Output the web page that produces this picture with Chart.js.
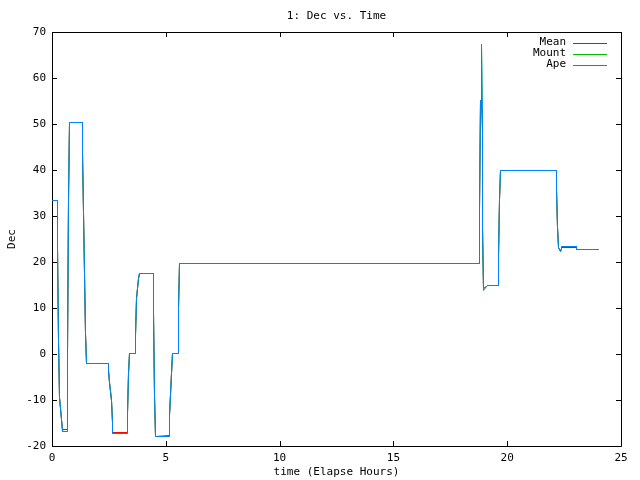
<!DOCTYPE html>
<html>
<head>
<meta charset="utf-8">
<title>1: Dec vs. Time</title>
<script src="https://cdn.jsdelivr.net/npm/chart.js@4.4.0/dist/chart.umd.min.js"></script>
<style>
  body { margin: 0; background: #fff; }
</style>
</head>
<body>
<canvas id="decChart" width="640" height="480"></canvas>
<script>
// elapsed hours and declination of each series
const hours = [
    0, 0.233, 0.233, 0.278, 0.322, 0.383, 0.427, 0.674, 0.674, 0.718,
    0.762, 1.335, 1.335, 1.379, 1.423, 1.467, 1.511, 2.480, 2.480, 2.524,
    2.586, 2.630, 2.656, 3.317, 3.317, 3.361, 3.405, 3.656, 3.656, 3.700,
    3.758, 3.802, 4.436, 4.436, 4.480, 4.507, 5.154, 5.154, 5.211, 5.256,
    5.537, 5.537, 5.564, 18.78, 18.78, 18.811, 18.868, 18.868, 18.885, 18.899,
    18.943, 19.07, 19.12, 19.617, 19.617, 19.66, 19.705, 22.128, 22.128, 22.172,
    22.216, 22.26, 22.304, 22.348, 22.38, 23.01, 23.04, 24.0
];
const apeDec = [
    33.5, 33.5, 23.3, 3.0, -9.4, -14.2, -16.7, -16.7, 0.2, 33.6,
    50.5, 50.5, 44.0, 30.9, 17.7, 4.5, -2.0, -2.0, -3.5, -6.0,
    -9.9, -14.7, -17.2, -17.2, -12.9, -4.2, 0.2, 0.2, 4.1, 12.1,
    16.5, 17.7, 17.7, 9.2, -8.9, -17.8, -17.8, -13.3, -4.2, 0.3,
    0.3, 9.9, 19.7, 19.7, 31.5, 55.2, 54.3, 67.3, 48.7, 27.7,
    14.4, 14.8, 15.0, 15.0, 21.2, 33.7, 40.1, 40.1, 35.8, 27.7,
    23.2, 22.8, 22.4, 23.1, 23.5, 23.5, 22.8, 22.8
];
const mountDec = [
    33.5, 33.5, 23.3, 3.0, -9.4, -14.2, -16.7, -16.7, 0.2, 33.6,
    50.5, 50.5, 44.0, 30.9, 17.7, 4.5, -2.0, -2.0, -3.5, -6.0,
    -9.9, -14.7, -17.2, -17.2, -12.9, -4.2, 0.2, 0.2, 4.1, 12.1,
    16.5, 17.7, 17.7, 9.2, -8.9, -17.8, -17.8, -13.3, -4.2, 0.3,
    0.3, 9.9, 19.7, 19.7, 31.5, 55.2, 54.3, 67.3, 48.7, 27.7,
    14.0, 14.8, 15.0, 15.0, 21.2, 33.7, 40.1, 40.1, 35.8, 27.7,
    23.2, 22.8, 22.4, 23.1, 23.5, 23.5, 22.8, 22.8
];
const meanDec = [
    33.5, 33.5, 23.3, 3.0, -9.4, -14.2, -16.4, -16.4, 0.2, 33.6,
    50.5, 50.5, 44.0, 30.9, 17.7, 4.5, -2.0, -2.0, -3.5, -6.0,
    -9.9, -14.7, -16.9, -16.9, -12.9, -4.2, 0.2, 0.2, 4.1, 12.1,
    16.5, 17.7, 17.7, 9.2, -8.9, -17.8, -17.5, -13.3, -4.2, 0.3,
    0.3, 9.9, 19.7, 19.7, 31.5, 55.2, 54.3, 54.3, 48.7, 27.7,
    14.4, 14.8, 15.0, 15.0, 21.2, 33.7, 40.1, 40.1, 35.8, 27.7,
    23.2, 22.8, 22.4, 23.0, 23.2, 23.2, 22.8, 22.8
];
const xTicks = [0, 5, 10, 15, 20, 25];
const yTicks = [-20, -10, 0, 10, 20, 30, 40, 50, 60, 70];

const FONT = '11px "DejaVu Sans Mono", monospace';

function toPoints(values) {
    return hours.map((h, i) => ({ x: h, y: values[i] }));
}

// snap the computed points to pixel centres so 1px lines stay crisp like gnuplot
const snapPlugin = {
    id: 'snap',
    afterDatasetsUpdate(chart) {
        chart.data.datasets.forEach((ds, i) => {
            chart.getDatasetMeta(i).data.forEach(p => {
                p.x = Math.round(p.x) + 0.5;
                p.y = Math.round(p.y) + 0.5;
            });
        });
    }
};

// gnuplot style frame: border plus inward ticks on all four sides
const framePlugin = {
    id: 'frame',
    beforeDatasetsDraw(chart) {
        const { ctx, chartArea: a, scales } = chart;
        const tick = 5;
        ctx.save();
        ctx.strokeStyle = '#000';
        ctx.lineWidth = 1;
        ctx.beginPath();
        ctx.rect(a.left + 0.5, a.top + 0.5, a.right - a.left, a.bottom - a.top);
        scales.x.ticks.forEach(t => {
            const px = Math.round(scales.x.getPixelForValue(t.value)) + 0.5;
            ctx.moveTo(px, a.bottom); ctx.lineTo(px, a.bottom - tick);
            ctx.moveTo(px, a.top); ctx.lineTo(px, a.top + tick);
        });
        scales.y.ticks.forEach(t => {
            const py = Math.round(scales.y.getPixelForValue(t.value)) + 0.5;
            ctx.moveTo(a.left, py); ctx.lineTo(a.left + tick, py);
            ctx.moveTo(a.right, py); ctx.lineTo(a.right - tick, py);
        });
        ctx.stroke();
        ctx.restore();
    },
    afterDraw(chart) {
        const { ctx, chartArea: a } = chart;
        const midX = (a.left + a.right) / 2;
        ctx.save();
        ctx.fillStyle = '#000';
        ctx.font = FONT;
        ctx.textBaseline = 'middle';
        ctx.textAlign = 'center';
        ctx.fillText('1: Dec vs. Time', midX, 16);
        ctx.fillText('time (Elapse Hours)', midX, 472);
        ctx.save();
        ctx.translate(12, (a.top + a.bottom) / 2);
        ctx.rotate(-Math.PI / 2);
        ctx.fillText('Dec', 0, 0);
        ctx.restore();

        // legend, top right, text right aligned with a line sample
        ctx.textAlign = 'right';
        chart.data.datasets.forEach((ds, i) => {
            const y = 42.5 + i * 11;
            ctx.fillStyle = '#000';
            ctx.fillText(ds.label, 566, y);
            ctx.strokeStyle = ds.borderColor;
            ctx.lineWidth = 1;
            ctx.beginPath();
            ctx.moveTo(573, Math.round(y) + 0.5);
            ctx.lineTo(607, Math.round(y) + 0.5);
            ctx.stroke();
        });
        ctx.restore();
    }
};

new Chart(document.getElementById('decChart').getContext('2d'), {
    type: 'scatter',
    data: {
        datasets: [
            { label: 'Mean', data: toPoints(meanDec), borderColor: '#ff0000', order: 2 },
            { label: 'Mount', data: toPoints(mountDec), borderColor: '#00c000', order: 1 },
            { label: 'Ape', data: toPoints(apeDec), borderColor: '#0080ff', order: 0 }
        ].map(ds => Object.assign(ds, {
            showLine: true,
            borderWidth: 1,
            pointRadius: 0,
            tension: 0,
            clip: false
        }))
    },
    options: {
        responsive: false,
        animation: false,
        layout: { padding: { top: 32, right: 19, left: 0, bottom: 0 } },
        plugins: {
            legend: { display: false },
            title: { display: false },
            tooltip: { enabled: false }
        },
        scales: {
            x: {
                type: 'linear',
                min: 0,
                max: 25,
                afterBuildTicks: s => { s.ticks = xTicks.map(v => ({ value: v })); },
                afterFit: s => { s.height = 34; },
                grid: { display: false, drawTicks: false },
                border: { display: false },
                ticks: { color: '#000', font: { family: '"DejaVu Sans Mono", monospace', size: 11 }, padding: 6, maxRotation: 0 }
            },
            y: {
                type: 'linear',
                min: -20,
                max: 70,
                afterBuildTicks: s => { s.ticks = yTicks.map(v => ({ value: v })); },
                afterFit: s => { s.width = 52; },
                grid: { display: false, drawTicks: false },
                border: { display: false },
                ticks: { color: '#000', font: { family: '"DejaVu Sans Mono", monospace', size: 11 }, padding: 6 }
            }
        }
    },
    plugins: [snapPlugin, framePlugin]
});
</script>
</body>
</html>
